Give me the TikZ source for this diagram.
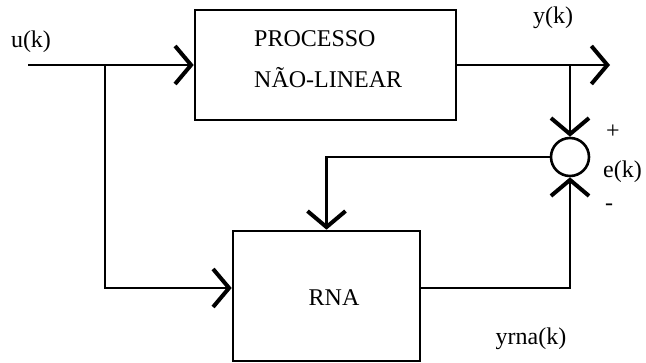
\documentclass[tikz,border=0pt]{standalone}
\usepackage{fontspec}
\setmainfont{Liberation Serif}
\usetikzlibrary{arrows.meta}
\begin{document}
\begin{tikzpicture}[x=1pt,y=-1pt,
  wire/.style={line width=2.2pt},
  arr/.style={wire,-{Straight Barb[length=16pt,width=38pt,line width=4pt]}},
  block/.style={draw,line width=2.6pt,inner sep=0pt},
  lbl/.style={font=\fontsize{24}{27}\selectfont,inner sep=0pt}]
\useasboundingbox (0,0) rectangle (646,363);
\node[block,minimum width=261pt,minimum height=110pt] (proc) at (325.5,65) {};
\node[block,minimum width=187pt,minimum height=130pt] (rna) at (326.5,296) {};
\node[draw,circle,line width=2.6pt,minimum size=38pt,inner sep=0pt] (sum) at (570,157) {};
\coordinate (uin) at (28,65);
\coordinate (j1) at (105,65);
\coordinate (j2) at (570,65);
\coordinate (yout) at (610,65);
\draw[arr] (uin) -- (proc.west);
\draw[arr] (j1) |- ([yshift=8pt]rna.west);
\draw[arr] (proc.east) -- (yout);
\draw[arr] (j2) -- (sum.north);
\draw[arr] ([yshift=8pt]rna.east) -| (sum.south);
\draw[arr] (sum.west) -| (rna.north);
\node[lbl,anchor=base west] (t1) at (254,47) {PROCESSO};
\node[lbl,anchor=base west] (t2) at (254,88) {NÃO-LINEAR};
\node[lbl] (trna) at (334,298) {RNA};
\node[lbl] (tu) at (31,42) {u(k)};
\node[lbl] (ty) at (553,18) {y(k)};
\node[lbl] (tp) at (613,132) {+};
\node[lbl,anchor=west] (te) at (603,172) {e(k)};
\node[lbl] (tm) at (609,207) {-};
\node[lbl] (tyr) at (531,339) {yrna(k)};
\end{tikzpicture}
\end{document}
